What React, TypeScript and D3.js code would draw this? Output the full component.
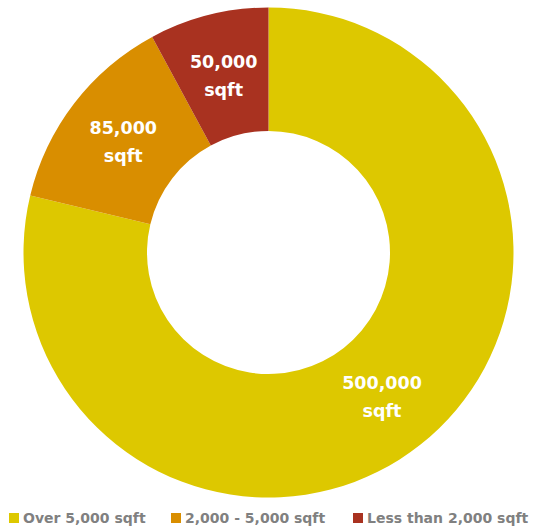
import React from "react";
import * as d3 from "d3";

const categories = ["Over 5,000 sqft", "2,000 - 5,000 sqft", "Less than 2,000 sqft"];
const values = [500000, 85000, 50000];
const colors = ["#DDC800", "#D98E00", "#A93220"];
const legendX = [9, 171, 353];

export default function App() {
  const W = 537, H = 527;
  const cx = 268.5, cy = 252.5, R = 245, r = 121.5;
  const pie = d3.pie<number>().sort(null).value((d) => d)(values);
  const arc = d3.arc<d3.PieArcDatum<number>>().innerRadius(r).outerRadius(R);
  const fmt = d3.format(",");
  return (
    <svg width={W} height={H} style={{ position: "absolute", left: 0, top: 0 }}
      fontFamily="'DejaVu Sans', sans-serif">
      <g transform={`translate(${cx},${cy})`}>
        {pie.map((p, i) => {
          const [x, y] = arc.centroid(p);
          return (
            <g key={i}>
              <path d={arc(p) || ""} fill={colors[i]} />
              <text x={x} y={y - 7} textAnchor="middle" fill="#fff" fontWeight="bold" fontSize={17.5}>
                {fmt(values[i])}
              </text>
              <text x={x} y={y + 21} textAnchor="middle" fill="#fff" fontWeight="bold" fontSize={17.5}>
                sqft
              </text>
            </g>
          );
        })}
      </g>
      {categories.map((c, i) => (
        <g key={c}>
          <rect x={legendX[i]} y={513} width={10} height={10} fill={colors[i]} />
          <text x={legendX[i] + 14} y={523} fill="#808080" fontWeight="bold" fontSize={14}>{c}</text>
        </g>
      ))}
    </svg>
  );
}
